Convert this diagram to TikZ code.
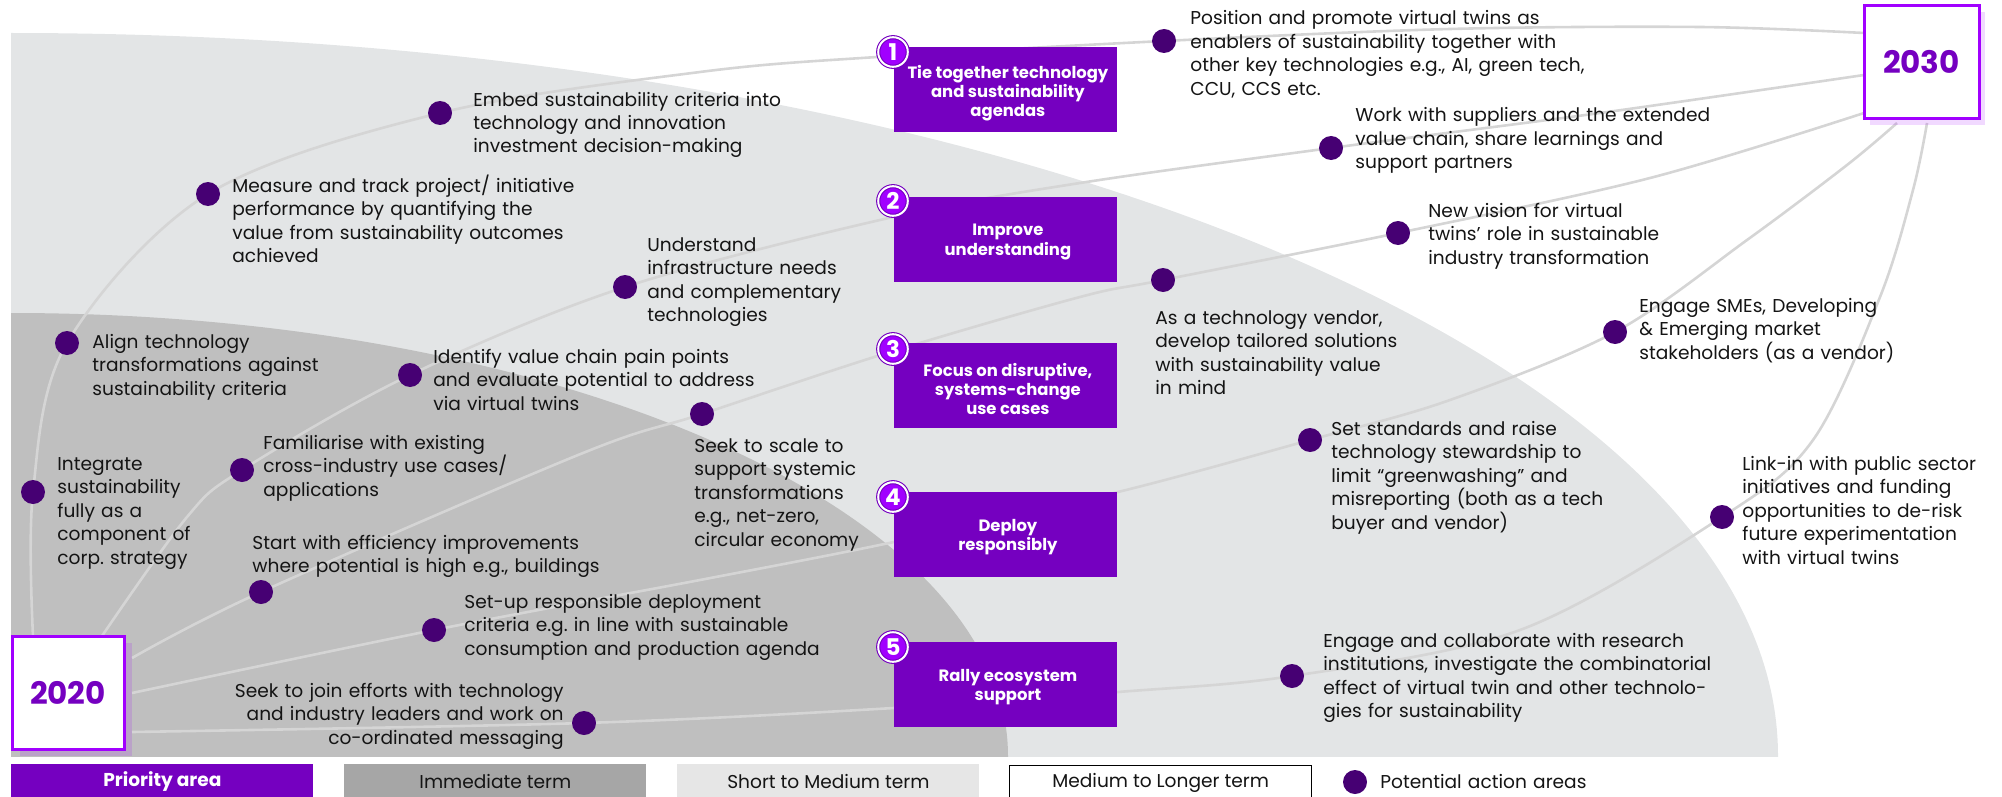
\documentclass[tikz,border=0pt]{standalone}
\usepackage{fontspec}
\setmainfont{Poppins}
\usetikzlibrary{calc}
\definecolor{boxpurple}{HTML}{7500C0}
\definecolor{brightpurple}{HTML}{A100FF}
\definecolor{dotpurple}{HTML}{460073}
\definecolor{lightgrey}{HTML}{E3E5E6}
\definecolor{darkgrey}{HTML}{BFBFBF}
\definecolor{linegrey}{HTML}{D5D5D5}
\definecolor{immgrey}{HTML}{A6A6A6}
\definecolor{shortgrey}{HTML}{E6E6E6}
\definecolor{textblack}{HTML}{141414}
\newcommand\bodyfont{\fontsize{9.3}{11.75}\selectfont\frenchspacing}
\newcommand\boxfont{\fontsize{8.2}{9.6}\selectfont\bfseries}
\begin{document}
\begin{tikzpicture}[x=0.5pt,y=-0.5pt,
  track/.style={draw=linegrey, line width=1.3pt},
  actdot/.style={circle, fill=dotpurple, minimum size=12pt, inner sep=0pt},
  lbl/.style={anchor=base west, text width=215pt, align=left, inner sep=0pt, font=\bodyfont, text=textblack},
  lblr/.style={anchor=base east, text width=215pt, align=right, inner sep=0pt, font=\bodyfont, text=textblack},
  prio/.style={fill=boxpurple, text=white, minimum width=111.5pt, minimum height=42.5pt, inner sep=0pt, align=center, font=\boxfont, anchor=north west},
  priotext/.style={text=white, inner sep=0pt, align=center, font=\boxfont},
  numc/.style={circle, fill=brightpurple, draw=boxpurple, double=white, double distance=1pt, line width=0.55pt, minimum size=14.8pt, inner sep=0pt, text=white, font=\fontsize{11.5}{11.5}\selectfont\bfseries},
  yearbox/.style={draw=brightpurple, line width=1.5pt, fill=white, minimum height=56.5pt, inner sep=0pt, text=boxpurple, font=\fontsize{15.5}{16}\selectfont\bfseries},
  shadowbox/.style={fill=brightpurple, fill opacity=0.15},
  legbox/.style={minimum width=151pt, minimum height=17pt, inner sep=0pt, anchor=north west, font=\bodyfont},
]
\useasboundingbox (0,0) rectangle (2002,797);
% background regions
\begin{scope}
  \clip (11,0) rectangle (2002,756);
  \fill[lightgrey] (11,756) ellipse [x radius=1767, y radius=723];
  \fill[darkgrey] (11,756) ellipse [x radius=997, y radius=443];
\end{scope}

% action dots (positions)
\coordinate (pInt) at (33,492);
\coordinate (pAlign) at (67,343);
\coordinate (pMeas) at (208,194);
\coordinate (pEmbed) at (440,113);
\coordinate (pPos) at (1164,41);
\coordinate (pFam) at (242,470);
\coordinate (pIdent) at (410,375);
\coordinate (pUnder) at (625,287);
\coordinate (pWork) at (1331,148);
\coordinate (pStart) at (261,592);
\coordinate (pScale) at (702,414);
\coordinate (pVend) at (1163,280);
\coordinate (pVision) at (1398,233);
\coordinate (pSetup) at (434,630);
\coordinate (pStd) at (1310,440);
\coordinate (pSME) at (1615,332);
\coordinate (pJoin) at (584,723);
\coordinate (pCollab) at (1292,676);
\coordinate (pLink) at (1722,517);

% track end points
\coordinate (s1) at (33,636);
\coordinate (s2) at (102,636);
\coordinate (s3) at (132,658);
\coordinate (s4) at (132,693);
\coordinate (s5) at (132,732);
\coordinate (e1) at (1864,33);
\coordinate (e2) at (1864,75);
\coordinate (e3) at (1864,113);
\coordinate (e4) at (1897,123);
\coordinate (e5) at (1927,123);

% tracks
\draw[track] plot[smooth, tension=0.55] coordinates {(s1) (pInt) (pAlign) (pMeas) (pEmbed) (700,72) (877,57) (pPos) (1450,29) (1700,27) (e1)};
\draw[track] plot[smooth, tension=0.55] coordinates {(s2) (187,517) (pFam) (pIdent) (pUnder) (893,217) (1080,183) (pWork) (1600,113) (e2)};
\draw[track] plot[smooth, tension=0.55] coordinates {(s3) (pStart) (583,453) (pScale) (887,353) (1080,297) (pVend) (pVision) (1650,178) (e3)};
\draw[track] plot[smooth, tension=0.55] coordinates {(s4) (pSetup) (700,580) (894,542) (1118,492) (pStd) (1450,400) (pSME) (1747,240) (1847,165) (e4)};
\draw[track] plot[smooth, tension=0.55] coordinates {(s5) (pJoin) (894,708) (1118,692) (pCollab) (1520,630) (pLink) (1813,440) (1880,297) (1913,190) (e5)};

% year boxes
\fill[shadowbox] (20,643) rectangle (132,756);
\node[yearbox, minimum width=56pt] (y2020) at (68,692.5) {2020};
\fill[shadowbox] (1870,12) rectangle (1985,125);
\node[yearbox, minimum width=57.5pt] (y2030) at (1921.5,62.5) {2030};

% priority boxes
\node[prio] (b1) at (894,47) {};
\node[prio] (b2) at (894,197) {};
\node[prio] (b3) at (894,343) {};
\node[prio] (b4) at (894,492) {};
\node[prio] (b5) at (894,642) {};
\node[priotext] (b1t) at ($(b1.center)+(2,3)$) {Tie together technology\\and sustainability\\agendas};
\node[priotext] (b2t) at ($(b2.center)+(2,2)$) {Improve\\understanding};
\node[priotext] (b3t) at ($(b3.center)+(2,3)$) {Focus on disruptive,\\systems-change\\use cases};
\node[priotext] (b4t) at ($(b4.center)+(2,2)$) {Deploy\\responsibly};
\node[priotext] (b5t) at ($(b5.center)+(2,2)$) {Rally ecosystem\\support};
\node[numc] (n1) at (893,52) {1};
\node[numc] (n2) at (893,201) {2};
\node[numc] (n3) at (893,349) {3};
\node[numc] (n4) at (893,497) {4};
\node[numc] (n5) at (893,647) {5};

% dots
\foreach \p in {pInt,pAlign,pMeas,pEmbed,pPos,pFam,pIdent,pUnder,pWork,pStart,pScale,pVend,pVision,pSetup,pStd,pSME,pJoin,pCollab,pLink}
  \node[actdot] (d\p) at (\p) {};

% labels
\node[lbl] (tEmbed) at (473,106) {Embed sustainability criteria into\\technology and innovation\\investment decision-making};
\node[lbl] (tMeas) at (232,192) {Measure and track project/ initiative\\performance by quantifying the\\value from sustainability outcomes\\achieved};
\node[lbl] (tUnder) at (647,251) {Understand\\infrastructure needs\\and complementary\\technologies};
\node[lbl] (tAlign) at (92,348) {Align technology\\transformations against\\sustainability criteria};
\node[lbl] (tIdent) at (433,363) {Identify value chain pain points\\and evaluate potential to address\\via virtual twins};
\node[lbl] (tInt) at (57,470) {Integrate\\sustainability\\fully as a\\component of\\corp. strategy};
\node[lbl] (tFam) at (263,449) {Familiarise with existing\\cross-industry use cases/\\applications};
\node[lbl] (tStart) at (252,549) {Start with efficiency improvements\\where potential is high e.g., buildings};
\node[lbl] (tSetup) at (464,608) {Set-up responsible deployment\\criteria e.g. in line with sustainable\\consumption and production agenda};
\node[lblr] (tJoin) at (564,697) {Seek to join efforts with technology\\and industry leaders and work on\\co-ordinated messaging};
\node[lbl] (tScale) at (694,452) {Seek to scale to\\support systemic\\transformations\\e.g., net-zero,\\circular economy};
\node[lbl] (tPos) at (1190,25) {Position and promote virtual twins as\\enablers of sustainability together with\\other key technologies e.g., AI, green tech,\\CCU, CCS etc.};
\node[lbl] (tWork) at (1355,122) {Work with suppliers and the extended\\value chain, share learnings and\\support partners};
\node[lbl] (tVision) at (1428,217) {New vision for virtual\\twins’ role in sustainable\\industry transformation};
\node[lbl] (tVend) at (1155,324) {As a technology vendor,\\develop tailored solutions\\with sustainability value\\in mind};
\node[lbl] (tSME) at (1639,312) {Engage SMEs, Developing\\\& Emerging market\\stakeholders (as a vendor)};
\node[lbl] (tLink) at (1742,470) {Link-in with public sector\\initiatives and funding\\opportunities to de-risk\\future experimentation\\with virtual twins};
\node[lbl] (tStd) at (1331,435) {Set standards and raise\\technology stewardship to\\limit “greenwashing” and\\misreporting (both as a tech\\buyer and vendor)};
\node[lbl] (tCollab) at (1323,647) {Engage and collaborate with research\\institutions, investigate the combinatorial\\effect of virtual twin and other technolo-\\gies for sustainability};

% legend
\node[legbox, fill=boxpurple, text=white, font=\bodyfont\bfseries] (lg1) at (11,764) {Priority area};
\node[legbox, fill=immgrey, text=textblack] (lg2) at (344,764) {Immediate term};
\node[legbox, fill=shortgrey, text=textblack] (lg3) at (677,764) {Short to Medium term};
\node[legbox, fill=white, draw=black, line width=0.6pt, text=textblack] (lg4) at (1009,765) {Medium to Longer term};
\node[actdot] (lg5) at (1355,782) {};
\node[lbl, anchor=west] (lg5t) at (1380,781) {Potential action areas};
\end{tikzpicture}
\end{document}
